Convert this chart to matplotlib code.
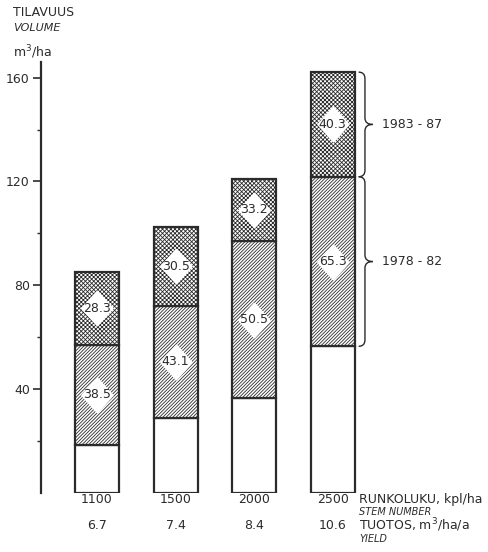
import numpy as np
import matplotlib
matplotlib.use("Agg")
import matplotlib.pyplot as plt
from matplotlib.path import Path
from matplotlib.patches import PathPatch

# Tiheyskokeen tilavuus jaksoittain
stem_number = ["1100", "1500", "2000", "2500"]
yield_m3 = ["6.7", "7.4", "8.4", "10.6"]
base = [18.5, 29.0, 36.5, 56.5]          # tilavuus 1978 alussa
growth_7882 = [38.5, 43.1, 60.5, 65.3]   # korkeudet kuvasta luettuina
growth_8387 = [28.3, 30.5, 24.0, 40.3]
label_7882 = ["38.5", "43.1", "50.5", "65.3"]
label_8387 = ["28.3", "30.5", "33.2", "40.3"]
periods = ["1978 - 82", "1983 - 87"]

INK = "#2b2b2b"
FS = 9
plt.rcParams["font.family"] = ["DejaVu Sans"]
plt.rcParams["hatch.linewidth"] = 0.6

fig = plt.figure(figsize=(4.89, 5.52), dpi=100)
ax = fig.add_axes([41 / 489, 59 / 552, 448 / 489, 431 / 552])

x = np.arange(len(stem_number))
w = 0.56
bot = np.array(base)
mid = bot + np.array(growth_7882)
top = mid + np.array(growth_8387)

ax.bar(x, base, w, color="white", edgecolor=INK, linewidth=1.6)
ax.bar(x, growth_7882, w, bottom=bot, color="white", edgecolor=INK,
       linewidth=1.6, hatch="/" * 10)
ax.bar(x, growth_8387, w, bottom=mid, color="white", edgecolor=INK,
       linewidth=1.6, hatch="x" * 8)

# arvot valkoisen vinoneliön päälle
diamond = [(0, 1), (0.9, 0), (0, -1), (-0.9, 0), (0, 1)]
for i in range(len(x)):
    for y, lab in [((bot[i] + mid[i]) / 2, label_7882[i]),
                   ((mid[i] + top[i]) / 2, label_8387[i])]:
        ax.plot(x[i], y, marker=diamond, ms=25, color="white", mec="white", zorder=3)
        ax.text(x[i], y, lab, ha="center", va="center", fontsize=FS,
                color=INK, zorder=4)

# aaltosulkeet oikealla
def brace(y0, y1, x0, width, d=2.5):
    xm = x0 + width * 0.45
    ym = (y0 + y1) / 2
    verts = [(x0, y0), (xm, y0), (xm, y0 + d),
             (xm, ym - d), (xm, ym), (x0 + width, ym),
             (xm, ym), (xm, ym + d),
             (xm, y1 - d), (xm, y1), (x0, y1)]
    codes = [Path.MOVETO, Path.CURVE3, Path.CURVE3,
             Path.LINETO, Path.CURVE3, Path.CURVE3,
             Path.CURVE3, Path.CURVE3,
             Path.LINETO, Path.CURVE3, Path.CURVE3]
    ax.add_patch(PathPatch(Path(verts, codes), fill=False, edgecolor=INK,
                           linewidth=1.0, clip_on=False))
    return ym

bx = x[-1] + w / 2 + 0.05
for y0, y1, name in [(bot[-1], mid[-1], periods[0]), (mid[-1], top[-1], periods[1])]:
    ym = brace(y0, y1, bx, 0.18)
    ax.text(bx + 0.3, ym, name, ha="left", va="center", fontsize=FS, color=INK)

ax.set_xlim(-0.713, 4.99)
ax.set_ylim(0, 166)
for s in ["top", "right", "bottom"]:
    ax.spines[s].set_visible(False)
ax.spines["left"].set_linewidth(1.6)
ax.spines["left"].set_color(INK)
ax.set_xticks([])
ax.set_yticks([40, 80, 120, 160])
ax.set_yticks([20, 60, 100, 140], minor=True)
ax.tick_params(axis="y", which="major", length=6, width=1.2, color=INK,
               labelsize=FS, labelcolor=INK, pad=2)
ax.tick_params(axis="y", which="minor", length=3, width=1.0, color=INK)

# alarivit
for i in range(len(x)):
    ax.text(x[i], -2.6, stem_number[i], ha="center", va="center", fontsize=FS, color=INK)
    ax.text(x[i], -12.4, yield_m3[i], ha="center", va="center", fontsize=FS, color=INK)

rx = 3.34
ax.text(rx, -2.6, "RUNKOLUKU, kpl/ha", ha="left", va="center", fontsize=FS, color=INK)
ax.text(rx, -7.2, "STEM NUMBER", ha="left", va="center", fontsize=7,
        style="italic", color=INK)
ax.text(rx, -12.4, "TUOTOS, m$^3$/ha/a", ha="left", va="center", fontsize=FS, color=INK)
ax.text(rx, -17.6, "YIELD", ha="left", va="center", fontsize=7,
        style="italic", color=INK)

fig.text(13 / 489, 1 - 13 / 552, "TILAVUUS", ha="left", va="center", fontsize=FS, color=INK)
fig.text(13 / 489, 1 - 28 / 552, "VOLUME", ha="left", va="center", fontsize=8,
         style="italic", color=INK)
fig.text(13 / 489, 1 - 52 / 552, "m$^3$/ha", ha="left", va="center", fontsize=FS, color=INK)

fig.savefig("out.png", dpi=100, facecolor="white")
